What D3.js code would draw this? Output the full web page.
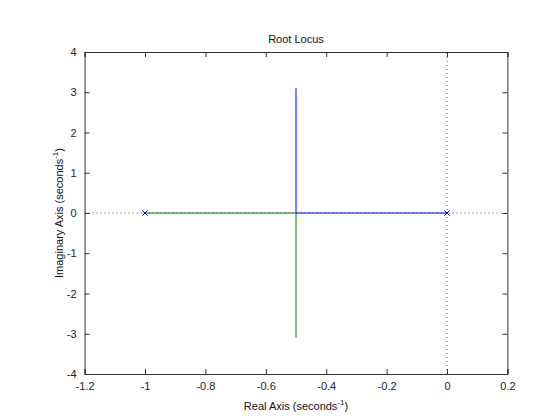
<!DOCTYPE html>
<html><head><meta charset="utf-8">
<script src="https://cdn.jsdelivr.net/npm/d3@7"></script>
<style>body{margin:0;background:#fff}svg{display:block}text{font-family:"Liberation Sans",Arial,sans-serif}</style>
</head><body>
<script>
const xTicks = [-1.2, -1, -0.8, -0.6, -0.4, -0.2, 0, 0.2];
const yTicks = [-4, -3, -2, -1, 0, 1, 2, 3, 4];
const poles = [[-1, 0], [0, 0]];
const branchBlue = [[0, 0], [-0.5, 0], [-0.5, 3.1]];
const branchGreen = [[-1, 0], [-0.5, 0], [-0.5, -3.1]];

const W = 560, H = 420;
const m = {l: 84.6, r: 507.4, t: 52, b: 374};
const svg = d3.select("body").append("svg").attr("width", W).attr("height", H);
const x = d3.scaleLinear().domain([-1.2, 0.2]).range([m.l, m.r]);
const y = d3.scaleLinear().domain([-4, 4]).range([m.b, m.t]);
const axisCol = "#333";

// reference dotted lines
svg.append("line").attr("x1", x(-1.2)).attr("x2", x(0.2)).attr("y1", y(0)).attr("y2", y(0))
  .attr("stroke", "#555").attr("stroke-width", 1).attr("stroke-dasharray", "1,3");
svg.append("line").attr("x1", x(0)).attr("x2", x(0)).attr("y1", y(-4)).attr("y2", y(4))
  .attr("stroke", "#555").attr("stroke-width", 1).attr("stroke-dasharray", "1,3");

const line = d3.line().x(d => x(d[0])).y(d => y(d[1]));
svg.append("path").attr("d", line(branchGreen)).attr("fill", "none").attr("stroke", "#008000").attr("stroke-width", 1);
svg.append("path").attr("d", line(branchBlue)).attr("fill", "none").attr("stroke", "#0000ff").attr("stroke-width", 1);

// pole markers
svg.selectAll("path.pole").data(poles).join("path").attr("class", "pole")
  .attr("d", d3.symbol(d3.symbolX, 20)).attr("transform", d => `translate(${x(d[0])},${y(d[1])})`)
  .attr("stroke", "#0000cc").attr("stroke-width", 1).attr("fill", "none");

// axes
const fmt = d => d === 0 ? "0" : String(d);
const gB = svg.append("g").attr("transform", `translate(0,${m.b})`)
  .call(d3.axisBottom(x).tickValues(xTicks).tickSize(-5).tickPadding(8).tickFormat(fmt));
const gT = svg.append("g").attr("transform", `translate(0,${m.t})`)
  .call(d3.axisTop(x).tickValues(xTicks).tickSize(-5).tickFormat(""));
const gL = svg.append("g").attr("transform", `translate(${m.l},0)`)
  .call(d3.axisLeft(y).tickValues(yTicks).tickSize(-5).tickPadding(8).tickFormat(fmt));
const gR = svg.append("g").attr("transform", `translate(${m.r},0)`)
  .call(d3.axisRight(y).tickValues(yTicks).tickSize(-5).tickFormat(""));
[gB, gT, gL, gR].forEach(g => {
  g.select(".domain").attr("stroke", axisCol);
  g.selectAll(".tick line").attr("stroke", axisCol);
  g.selectAll("text").attr("fill", "#222").style("font-size", "11px").style("font-family", '"Liberation Sans",Arial,sans-serif');
});

svg.append("text").attr("x", (m.l + m.r) / 2).attr("y", 43).attr("text-anchor", "middle")
  .style("font-size", "11px").attr("fill", "#111").text("Root Locus");

const xl = svg.append("text").attr("x", (m.l + m.r) / 2).attr("y", 410).attr("text-anchor", "middle")
  .style("font-size", "11px").attr("fill", "#111");
xl.append("tspan").text("Real Axis (seconds");
xl.append("tspan").attr("dy", -5).style("font-size", "8px").text("-1");
xl.append("tspan").attr("dy", 5).text(")");

const yl = svg.append("text").attr("transform", `translate(63,${(m.t + m.b) / 2}) rotate(-90)`).attr("text-anchor", "middle")
  .style("font-size", "11px").attr("fill", "#111");
yl.append("tspan").text("Imaginary Axis (seconds");
yl.append("tspan").attr("dy", -5).style("font-size", "8px").text("-1");
yl.append("tspan").attr("dy", 5).text(")");
</script>
</body></html>
